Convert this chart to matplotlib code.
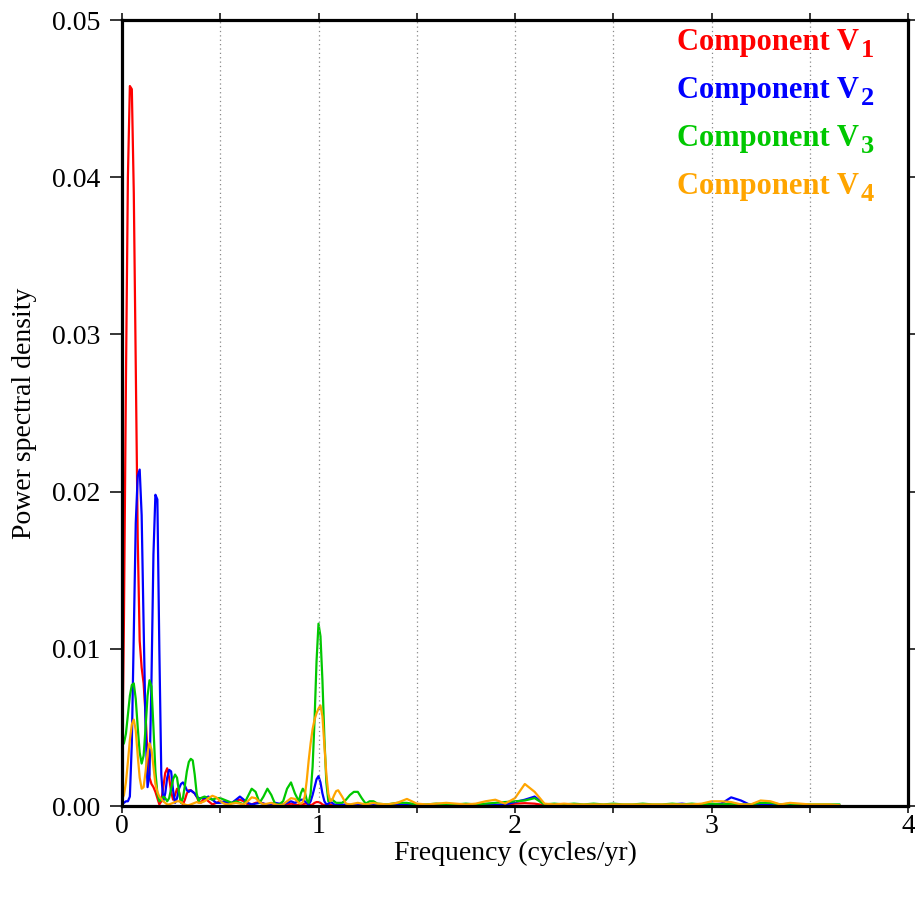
import numpy as np
import matplotlib
matplotlib.use("Agg")
import matplotlib.pyplot as plt
from matplotlib.ticker import MultipleLocator, FormatStrFormatter

plt.rcParams['font.family'] = ['Liberation Serif', 'DejaVu Serif']

# ---- frequency grid (cycles/yr), finer where the spectra have narrow peaks ----
freq = np.concatenate([
    np.round(np.arange(0.00, 0.405, 0.01), 3),   # 41
    np.round(np.arange(0.42, 0.905, 0.02), 3),   # 25
    np.round(np.arange(0.91, 1.105, 0.01), 3),   # 20
    np.round(np.arange(1.12, 1.305, 0.02), 3),   # 10
    np.round(np.arange(1.35, 3.655, 0.05), 3),   # 47
])

# ---- power spectral density values, in units of 1e-3 ----
v1_milli = [
    1.5, 12, 27, 40, 45.8, 45.6, 39, 28, 17, 10.5,
    8.8, 7.8, 5.8, 3.2, 1.8, 1.4, 1.2, 0.9, 0.5, 0.1,
    0.3, 1.2, 2.1, 2.4, 1.8, 0.9, 0.4, 0.7, 1.1, 0.9,
    0.3, 0.1, 0.4, 0.8, 1.0, 1.0, 0.9, 0.8, 0.6, 0.3, 0.2,
    0.5, 0.3, 0.1, 0.2, 0.3, 0.2, 0.1, 0.2, 0.35, 0.4,
    0.3, 0.1, 0.1, 0.2, 0.25, 0.15, 0.05, 0.1, 0.15, 0.1,
    0.05, 0.1, 0.15, 0.1, 0.05,
    0.05, 0.1, 0.15, 0.15, 0.1, 0.05, 0.1, 0.2, 0.25, 0.25,
    0.2, 0.1, 0.05, 0.05, 0.1, 0.1, 0.05, 0.03, 0.05, 0.08,
    0.05, 0.03, 0.05, 0.04, 0.02, 0.03, 0.04, 0.02, 0.03, 0.03,
    0.03, 0.05, 0.04, 0.03, 0.03, 0.04, 0.03, 0.03, 0.04, 0.03,
    0.04, 0.05, 0.08, 0.15, 0.18, 0.15, 0.05, 0.03, 0.03, 0.03,
    0.02, 0.03, 0.02, 0.03, 0.03, 0.02, 0.03, 0.02, 0.03, 0.02,
    0.03, 0.02, 0.03, 0.04, 0.05, 0.04, 0.03, 0.03, 0.04, 0.03,
    0.02, 0.03, 0.02, 0.02, 0.02, 0.02, 0.02,
]
v2_milli = [
    0.3, 0.2, 0.3, 0.3, 0.6, 4, 11, 18, 21, 21.4,
    18.5, 11.5, 5, 1.2, 2, 8, 16, 19.8, 19.5, 10,
    2, 0.3, 0.8, 1.8, 2.3, 2.2, 1.0, 0.2, 0.5, 1.1,
    1.4, 1.5, 1.3, 1.0, 0.9, 1.0, 0.9, 0.8, 0.6, 0.5, 0.5,
    0.5, 0.6, 0.4, 0.2, 0.2, 0.3, 0.2, 0.2, 0.4, 0.6,
    0.4, 0.2, 0.1, 0.15, 0.2, 0.15, 0.1, 0.15, 0.2, 0.15,
    0.1, 0.2, 0.3, 0.2, 0.3,
    0.4, 0.4, 0.3, 0.2, 0.1, 0.3, 0.7, 1.2, 1.7, 1.9,
    1.5, 0.8, 0.3, 0.1, 0.15, 0.25, 0.2, 0.1, 0.05, 0.05,
    0.08, 0.1, 0.08, 0.05, 0.05, 0.07, 0.05, 0.04, 0.05, 0.04,
    0.03, 0.05, 0.08, 0.05, 0.04, 0.05, 0.06, 0.05, 0.04, 0.06,
    0.05, 0.06, 0.1, 0.25, 0.4, 0.6, 0.1, 0.05, 0.05, 0.06,
    0.04, 0.05, 0.04, 0.05, 0.04, 0.05, 0.04, 0.05, 0.05, 0.1,
    0.15, 0.08, 0.05, 0.1, 0.15, 0.55, 0.35, 0.05, 0.1, 0.08,
    0.05, 0.06, 0.05, 0.04, 0.05, 0.04, 0.04,
]
v3_milli = [
    3.8, 4.0, 4.6, 5.8, 7.0, 7.7, 7.8, 6.8, 5.0, 3.4,
    2.7, 3.2, 5.0, 7.0, 8.0, 7.6, 5.0, 2.2, 0.8, 0.3,
    0.4, 0.6, 0.5, 0.3, 0.5, 1.1, 1.7, 2.0, 1.8, 0.9,
    0.2, 0.5, 1.3, 2.2, 2.8, 3.0, 2.9, 2.0, 0.8, 0.3, 0.5,
    0.6, 0.5, 0.4, 0.5, 0.5, 0.4, 0.3, 0.2, 0.3, 0.2,
    0.1, 0.6, 1.1, 0.9, 0.2, 0.6, 1.1, 0.7, 0.1, 0.1,
    0.3, 1.1, 1.5, 0.8, 0.3,
    0.8, 1.1, 0.9, 0.4, 0.2, 0.8, 2.5, 5.5, 9.2, 11.6,
    10.8, 8.0, 4.3, 1.5, 0.3, 0.4, 0.4, 0.3, 0.2, 0.2,
    0.2, 0.4, 0.7, 0.9, 0.9, 0.5, 0.15, 0.3, 0.3, 0.15,
    0.1, 0.2, 0.2, 0.1, 0.1, 0.15, 0.1, 0.1, 0.15, 0.1,
    0.15, 0.2, 0.25, 0.3, 0.35, 0.5, 0.1, 0.15, 0.1, 0.15,
    0.1, 0.15, 0.1, 0.15, 0.1, 0.1, 0.15, 0.1, 0.1, 0.15,
    0.1, 0.15, 0.1, 0.15, 0.1, 0.15, 0.1, 0.1, 0.2, 0.2,
    0.1, 0.15, 0.1, 0.1, 0.1, 0.1, 0.1,
]
v4_milli = [
    0.4, 0.7, 1.5, 2.8, 4.2, 5.2, 5.5, 4.8, 3.2, 1.8,
    1.1, 1.2, 2.2, 3.4, 4.0, 3.6, 2.5, 1.4, 0.9, 0.6,
    0.45, 0.3, 0.2, 0.1, 0.1, 0.15, 0.2, 0.25, 0.3, 0.3,
    0.25, 0.15, 0.1, 0.05, 0.05, 0.1, 0.15, 0.2, 0.25, 0.2, 0.2,
    0.3, 0.5, 0.65, 0.55, 0.3, 0.15, 0.1, 0.15, 0.2, 0.15,
    0.1, 0.3, 0.55, 0.5, 0.25, 0.1, 0.15, 0.2, 0.1, 0.05,
    0.1, 0.3, 0.5, 0.45, 0.2,
    0.15, 0.25, 0.6, 1.6, 2.9, 4.0, 4.9, 5.5, 5.9, 6.2,
    6.4, 5.7, 3.8, 2.0, 0.8, 0.3, 0.4, 0.7, 0.95, 1.0,
    0.6, 0.15, 0.1, 0.15, 0.2, 0.15, 0.1, 0.15, 0.2, 0.15,
    0.1, 0.2, 0.45, 0.15, 0.1, 0.15, 0.2, 0.15, 0.1, 0.15,
    0.3, 0.4, 0.15, 0.5, 1.4, 0.9, 0.15, 0.1, 0.15, 0.1,
    0.1, 0.1, 0.1, 0.1, 0.1, 0.1, 0.1, 0.1, 0.1, 0.1,
    0.1, 0.1, 0.15, 0.3, 0.3, 0.25, 0.1, 0.1, 0.35, 0.3,
    0.1, 0.2, 0.15, 0.1, 0.1, 0.1, 0.05,
]

series_labels = ["1", "2", "3", "4"]
series_colors = ["#ff0000", "#0000ff", "#00c800", "#ffa500"]
series_values = [v1_milli, v2_milli, v3_milli, v4_milli]

x_ticks = [0, 1, 2, 3, 4]
y_ticks = [0.00, 0.01, 0.02, 0.03, 0.04, 0.05]

fig = plt.figure(figsize=(9.15, 8.97), dpi=100)
ax = fig.add_axes([122/915, 1 - 806/897, 786/915, 786/897])

for vals, col in zip(series_values, series_colors):
    ax.plot(freq, np.asarray(vals) * 1e-3, color=col, lw=1.6, zorder=2)

ax.set_xlim(0, 4)
ax.set_ylim(0, 0.05)
ax.set_xticks(x_ticks)
ax.xaxis.set_minor_locator(MultipleLocator(0.5))
ax.set_yticks(y_ticks)
ax.yaxis.set_major_formatter(FormatStrFormatter('%.2f'))
ax.xaxis.set_major_formatter(FormatStrFormatter('%d'))

ax.grid(True, which='both', axis='x', linestyle=(0, (1, 2.5)), color='#888888', lw=0.9)
ax.set_axisbelow(False)

for s in ax.spines.values():
    s.set_linewidth(2.3)
    s.set_zorder(5)

ax.tick_params(axis='both', which='both', direction='out', top=True, right=True,
               width=1.1, colors='black')
ax.tick_params(axis='x', which='major', length=5, pad=0.5, labelsize=20)
ax.tick_params(axis='x', which='minor', length=5)
ax.tick_params(axis='y', which='major', length=8.5, pad=7, labelsize=20)

fig.text(515/915, 1 - 853/897, "Frequency (cycles/yr)", ha='center', va='center', fontsize=20)
fig.text(25/915, 1 - 413/897, "Power spectral density", ha='center', va='center',
         rotation=90, fontsize=20)

baselines = [50, 98, 146, 194]
for lab, col, yb in zip(series_labels, series_colors, baselines):
    fig.text(859/915, 1 - yb/897, "Component V", ha='right', va='baseline',
             color=col, fontsize=22, fontweight='bold')
    fig.text(861/915, 1 - (yb + 7)/897, lab, ha='left', va='baseline',
             color=col, fontsize=19, fontweight='bold')

fig.savefig("out.png", dpi=100)
